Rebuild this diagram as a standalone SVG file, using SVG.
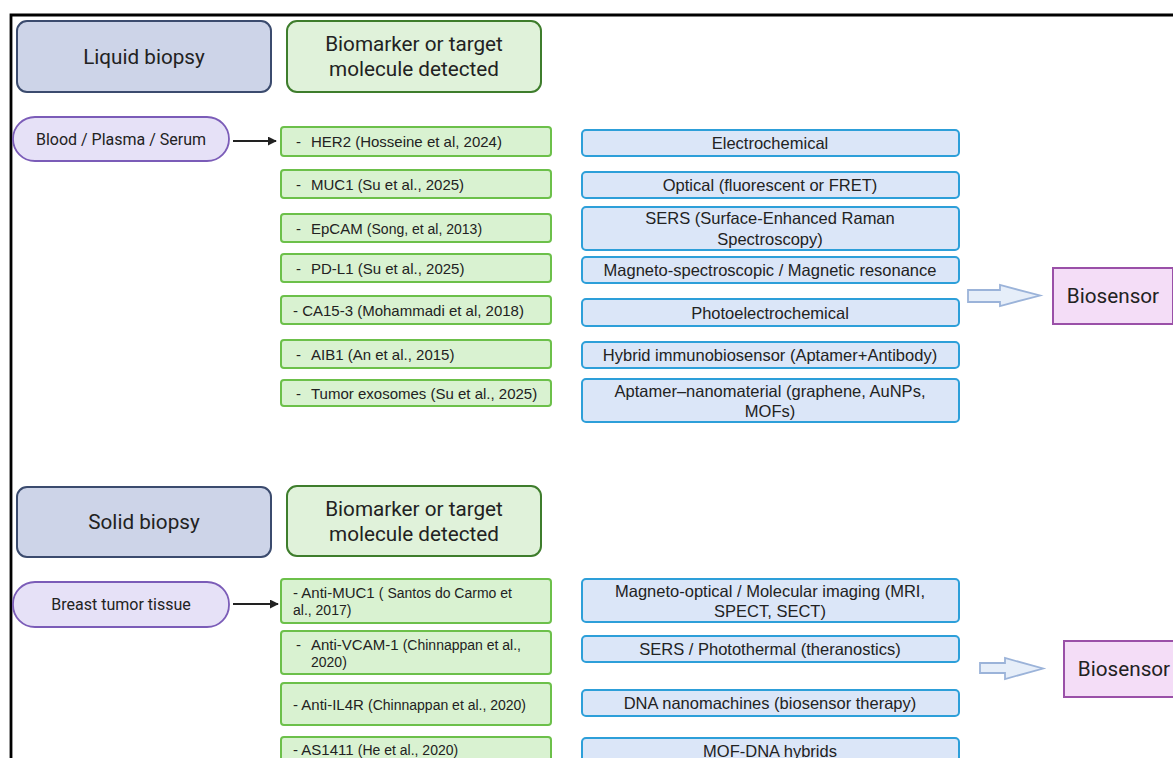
<svg xmlns="http://www.w3.org/2000/svg" width="1173" height="758" viewBox="0 0 1173 758">
<defs>
<style>
.hdrA{fill:#cdd4e8;stroke:#3b4b6e;stroke-width:2}
.hdrB{fill:#e0f2da;stroke:#3e7d2c;stroke-width:2}
.pill{fill:#e6e1f7;stroke:#7b5cb8;stroke-width:1.8}
.item{fill:#d9f2d1;stroke:#6cc04a;stroke-width:2}
.tech{fill:#dbe6f8;stroke:#2d9fd9;stroke-width:2}
.bio{fill:#f4ddf7;stroke:#9a50a8;stroke-width:2}
.blk{fill:#e6eef9;stroke:#9bb3d9;stroke-width:1.8}
.th{font-family:Roboto,"Liberation Sans",sans-serif;font-size:20.7px;fill:#222;text-anchor:middle}
.tp{font-family:Roboto,"Liberation Sans",sans-serif;font-size:16px;fill:#222;text-anchor:middle}
.ti{font-family:"Liberation Sans",Arial,sans-serif;font-size:15px;fill:#222}
.tt{font-family:"Liberation Sans",Arial,sans-serif;font-size:16.5px;fill:#222;text-anchor:middle}
.sm{font-size:14px}
.conn{stroke:#222;stroke-width:1.8;fill:none}
</style>
<marker id="ah" viewBox="0 0 10 10" refX="9" refY="5" markerWidth="9" markerHeight="9" orient="auto" markerUnits="userSpaceOnUse">
<path d="M0,0 L10,5 L0,10 z" fill="#222"/>
</marker>
</defs>
<rect x="0" y="0" width="1173" height="758" fill="#fff"/>
<path d="M11,758 L11,15 L1173,15" fill="none" stroke="#000" stroke-width="2.8"/>

<g id="liquid-biopsy"><rect class="hdrA" x="17" y="21" width="254" height="71" rx="10"/><text class="th" x="144" y="64">Liquid biopsy</text></g>
<g id="biomarker-1"><rect class="hdrB" x="287" y="21" width="254" height="71" rx="10"/><text class="th" x="414" y="51">Biomarker or target</text><text class="th" x="414" y="76">molecule detected</text></g>
<g id="blood"><rect class="pill" x="13" y="117" width="216" height="44" rx="22"/><text class="tp" x="121" y="145">Blood / Plasma / Serum</text></g>

<g id="her2"><rect class="item" x="281" y="127" width="270" height="29" rx="3"/><text class="ti" x="296" y="146.5">-<tspan x="311">HER2 (Hosseine et al, 2024)</tspan></text></g>
<g id="muc1"><rect class="item" x="281" y="170" width="270" height="28" rx="3"/><text class="ti" x="296" y="189.5">-<tspan x="311">MUC1 <tspan class="sm">(</tspan>Su et al., 2025)</tspan></text></g>
<g id="epcam"><rect class="item" x="281" y="214" width="270" height="28" rx="3"/><text class="ti" x="296" y="233.5">-<tspan x="311">EpCAM <tspan class="sm">(Song, et al, 2013)</tspan></tspan></text></g>
<g id="pdl1"><rect class="item" x="281" y="254" width="270" height="28" rx="3"/><text class="ti" x="296" y="273.5">-<tspan x="311">PD-L1 (Su et al., 2025)</tspan></text></g>
<g id="ca153"><rect class="item" x="281" y="296" width="270" height="28" rx="3"/><text class="ti" x="293" y="315.5">- CA15-3 (Mohammadi et al, 2018)</text></g>
<g id="aib1"><rect class="item" x="281" y="340" width="270" height="28" rx="3"/><text class="ti" x="296" y="359.5">-<tspan x="311">AIB1 (An et al., 2015)</tspan></text></g>
<g id="exosomes"><rect class="item" x="281" y="380" width="270" height="26" rx="3"/><text class="ti" x="296" y="398.5">-<tspan x="311">Tumor exosomes (Su et al., 2025)</tspan></text></g>

<g id="electrochemical"><rect class="tech" x="582" y="130" width="377" height="26" rx="4"/><text class="tt" x="770" y="149">Electrochemical</text></g>
<g id="optical"><rect class="tech" x="582" y="172" width="377" height="26" rx="4"/><text class="tt" x="770" y="191">Optical (fluorescent or FRET)</text></g>
<g id="sers"><rect class="tech" x="582" y="207" width="377" height="43" rx="4"/><text class="tt" x="770" y="224">SERS (Surface-Enhanced Raman</text><text class="tt" x="770" y="244.5">Spectroscopy)</text></g>
<g id="magneto"><rect class="tech" x="582" y="257" width="377" height="26" rx="4"/><text class="tt" x="770" y="276">Magneto-spectroscopic / Magnetic resonance</text></g>
<g id="photoelectro"><rect class="tech" x="582" y="299" width="377" height="27" rx="4"/><text class="tt" x="770" y="318.5">Photoelectrochemical</text></g>
<g id="hybrid"><rect class="tech" x="582" y="342" width="377" height="26" rx="4"/><text class="tt" x="770" y="361">Hybrid immunobiosensor (Aptamer+Antibody)</text></g>
<g id="aptamer"><rect class="tech" x="582" y="379" width="377" height="43" rx="4"/><text class="tt" x="770" y="396.5">Aptamer–nanomaterial (graphene, AuNPs,</text><text class="tt" x="770" y="416.5">MOFs)</text></g>

<g id="biosensor-1"><rect class="bio" x="1053" y="268" width="120" height="56"/><text class="th" x="1113" y="303">Biosensor</text></g>

<g id="solid-biopsy"><rect class="hdrA" x="17" y="487" width="254" height="70" rx="10"/><text class="th" x="144" y="529">Solid biopsy</text></g>
<g id="biomarker-2"><rect class="hdrB" x="287" y="486" width="254" height="70" rx="10"/><text class="th" x="414" y="516">Biomarker or target</text><text class="th" x="414" y="541">molecule detected</text></g>
<g id="breast"><rect class="pill" x="13" y="582" width="216" height="45" rx="22"/><text class="tp" x="121" y="610">Breast tumor tissue</text></g>

<g id="anti-muc1"><rect class="item" x="281" y="579" width="270" height="44" rx="3"/><text class="ti" x="293" y="597.5">- Anti-MUC1 <tspan class="sm">( Santos do Carmo et</tspan></text><text class="ti sm" x="293" y="614.5">al., 2017)</text></g>
<g id="anti-vcam"><rect class="item" x="281" y="631" width="270" height="43" rx="3"/><text class="ti" x="296" y="649.5">-<tspan x="311">Anti-VCAM-1 <tspan class="sm">(Chinnappan et al.,</tspan></tspan></text><text class="ti sm" x="311" y="666.5">2020)</text></g>
<g id="anti-il4r"><rect class="item" x="281" y="683" width="270" height="42" rx="3"/><text class="ti" x="293" y="709.5">- Anti-IL4R <tspan class="sm">(Chinnappan et al., 2020)</tspan></text></g>
<g id="as1411"><rect class="item" x="281" y="737" width="270" height="40" rx="3"/><text class="ti" x="293" y="754.5">- AS1411 <tspan class="sm">(He et al., 2020)</tspan></text></g>

<g id="magneto-optical"><rect class="tech" x="582" y="579" width="377" height="43" rx="4"/><text class="tt" x="770" y="596.5">Magneto-optical / Molecular imaging (MRI,</text><text class="tt" x="770" y="616.5">SPECT, SECT)</text></g>
<g id="sers-pt"><rect class="tech" x="582" y="636" width="377" height="26" rx="4"/><text class="tt" x="770" y="655">SERS / Photothermal (theranostics)</text></g>
<g id="dna-nano"><rect class="tech" x="582" y="690" width="377" height="26" rx="4"/><text class="tt" x="770" y="709">DNA nanomachines (biosensor therapy)</text></g>
<g id="mof-dna"><rect class="tech" x="582" y="738" width="377" height="40" rx="4"/><text class="tt" x="770" y="756.5">MOF-DNA hybrids</text></g>

<g id="biosensor-2"><rect class="bio" x="1064" y="641" width="120" height="56"/><text class="th" x="1124" y="676">Biosensor</text></g>

<g id="connectors">
<line class="conn" x1="233" y1="141" x2="276" y2="141" marker-end="url(#ah)"/>
<line class="conn" x1="233" y1="604" x2="278" y2="604" marker-end="url(#ah)"/>
<path class="blk" d="M968,290 L1000,290 L1000,285 L1040,295.5 L1000,306 L1000,302 L968,302 Z"/>
<path class="blk" d="M980,663 L1005,663 L1005,658 L1043,668.5 L1005,679 L1005,673 L980,673 Z"/>
</g>
</svg>
